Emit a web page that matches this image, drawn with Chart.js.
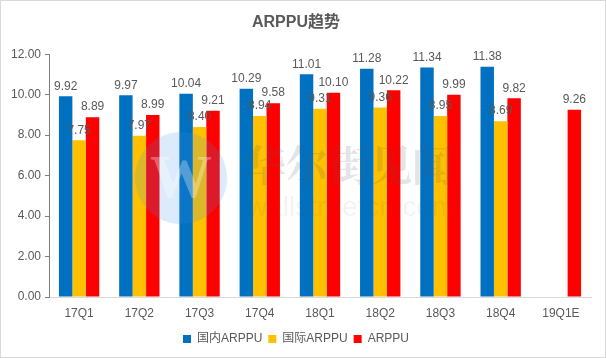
<!DOCTYPE html>
<html><head><meta charset="utf-8">
<script src="https://cdn.jsdelivr.net/npm/chart.js@4/dist/chart.umd.min.js"></script>
<style>
html,body{margin:0;padding:0;background:#fff;}
#wrap{position:relative;width:604px;height:356px;border:1px solid #d9d9d9;}
</style></head><body>
<div id="wrap"><canvas id="c" width="604" height="356"></canvas></div>
<script>
const categories = ['17Q1','17Q2','17Q3','17Q4','18Q1','18Q2','18Q3','18Q4','19Q1E'];
const domesticARPPU = [9.92, 9.97, 10.04, 10.29, 11.01, 11.28, 11.34, 11.38, null];
const intlARPPU = [7.75, 7.97, 8.40, 8.94, 9.31, 9.36, 8.95, 8.69, null];
const totalARPPU = [8.89, 8.99, 9.21, 9.58, 10.10, 10.22, 9.99, 9.82, 9.26];
const seriesNames = ['国内ARPPU', '国际ARPPU', 'ARPPU'];
const yTicks = [0, 2, 4, 6, 8, 10, 12];

const FONT = '"Liberation Sans", "Noto Sans CJK SC", sans-serif';
const TXT = '#595959';

const labelPlugin = {
  id: 'labels',
  afterDatasetsDraw(chart) {
    const ctx = chart.ctx;
    ctx.save();
    ctx.font = '12px ' + FONT;
    ctx.fillStyle = TXT;
    ctx.textAlign = 'center';
    ctx.textBaseline = 'bottom';
    chart.data.datasets.forEach((ds, i) => {
      const meta = chart.getDatasetMeta(i);
      meta.data.forEach((bar, j) => {
        const v = ds.data[j];
        if (v == null) return;
        ctx.fillText(v.toFixed(2), bar.x, bar.y - 4);
      });
    });
    ctx.restore();
  }
};

const watermarkPlugin = {
  id: 'watermark',
  afterDatasetsDraw(chart) {
    const ctx = chart.ctx;
    ctx.save();
    ctx.globalAlpha = 0.18;
    ctx.fillStyle = '#3b8ee8';
    ctx.beginPath();
    ctx.arc(180, 177, 46, 0, Math.PI * 2);
    ctx.fill();
    ctx.globalAlpha = 0.3;
    ctx.fillStyle = '#ffffff';
    ctx.font = 'bold 62px "Liberation Serif", serif';
    ctx.textAlign = 'center';
    ctx.textBaseline = 'middle';
    ctx.fillText('W', 180, 180);
    ctx.globalAlpha = 0.16;
    ctx.fillStyle = '#555';
    ctx.font = 'bold 42px "Noto Serif CJK SC", "Noto Sans CJK SC", serif';
    ctx.textAlign = 'left';
    ctx.fillText('华尔街见闻', 243, 164);
    ctx.globalAlpha = 0.07;
    ctx.font = '28px "Liberation Sans", sans-serif';
    ctx.fillText('wallstreetcn.com', 246, 207);
    ctx.restore();
  }
};

new Chart(document.getElementById('c'), {
  type: 'bar',
  data: {
    labels: categories,
    datasets: [
      { label: seriesNames[0], data: domesticARPPU, backgroundColor: '#0070C0' },
      { label: seriesNames[1], data: intlARPPU, backgroundColor: '#FFC000' },
      { label: seriesNames[2], data: totalARPPU, backgroundColor: '#FF0000' }
    ]
  },
  options: {
    responsive: false,
    animation: false,
    layout: { padding: { left: 0, right: 14, top: 0, bottom: 2 } },
    datasets: { bar: { categoryPercentage: 0.67, barPercentage: 1.0 } },
    plugins: {
      title: {
        display: true, text: 'ARPPU趋势', color: TXT,
        font: { family: FONT, size: 16, weight: 'bold' },
        padding: { top: 12, bottom: 22 }
      },
      legend: {
        position: 'bottom',
        align: 'center',
        labels: {
          color: TXT, boxWidth: 8, boxHeight: 8, padding: 6,
          font: { family: FONT, size: 12 }
        }
      },
      tooltip: { enabled: false }
    },
    scales: {
      x: {
        grid: { display: false },
        border: { color: '#d9d9d9' },
        ticks: { color: TXT, font: { family: FONT, size: 12 }, padding: 1 },
        afterFit(scale) { scale.height = 30; }
      },
      y: {
        min: 0, max: 12,
        afterBuildTicks(scale) { scale.ticks = yTicks.map(v => ({ value: v })); },
        afterFit(scale) { scale.width = 48; },
        grid: { drawOnChartArea: false, drawTicks: true, tickLength: 4, color: '#7f7f7f' },
        border: { color: '#7f7f7f' },
        ticks: {
          color: TXT, font: { family: FONT, size: 12 }, padding: 4,
          callback: v => Number(v).toFixed(2)
        }
      }
    }
  },
  plugins: [labelPlugin, watermarkPlugin]
});
</script>
</body></html>
